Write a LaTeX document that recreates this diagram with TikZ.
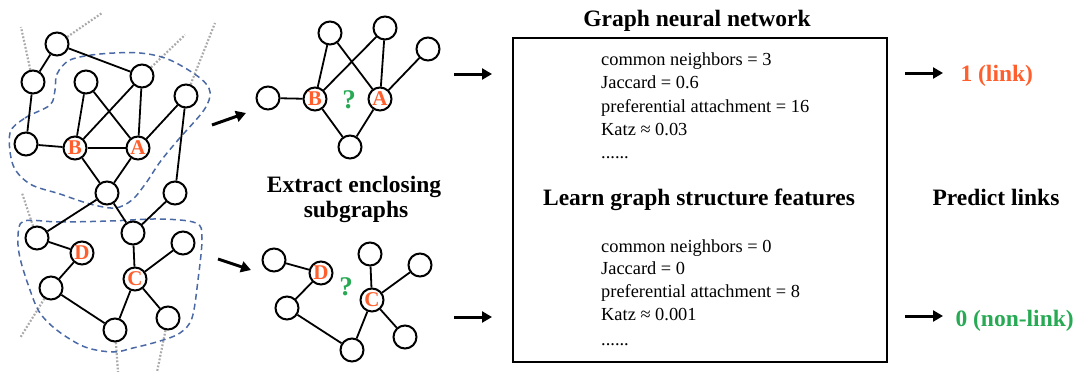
\documentclass[tikz,border=0pt]{standalone}
\usepackage{fontspec}
\setmainfont{Liberation Serif}
\usetikzlibrary{arrows.meta,backgrounds}
\definecolor{hot}{RGB}{255,95,45}
\definecolor{okgreen}{RGB}{40,170,85}
\definecolor{hull}{RGB}{75,105,165}
\definecolor{ghost}{RGB}{170,170,170}

\begin{document}
\begin{tikzpicture}[x=1pt,y=-1pt,
  vx/.style={circle,draw,line width=2pt,fill=white,minimum size=23pt,inner sep=0pt,
             font=\fontsize{21}{21}\selectfont\bfseries,text=hot},
  edge/.style={line width=1.8pt},
  hullline/.style={hull,line width=1.5pt,dash pattern=on 6pt off 4pt},
  outer/.style={ghost,line width=2.2pt,dash pattern=on 1.8pt off 1.8pt},
  flow/.style={line width=3pt,-{Triangle[length=10pt,width=11pt]}},
  heading/.style={font=\fontsize{23.5}{25}\selectfont\bfseries,anchor=base},
  feat/.style={font=\fontsize{18.4}{23}\selectfont,anchor=base west,inner sep=0pt},
  qmark/.style={font=\fontsize{27}{27}\selectfont\bfseries,text=okgreen},
]
\useasboundingbox (0,0) rectangle (1080,372);

% ---------- full network ----------
\node[vx] (L1) at (57,44) {};
\node[vx] (L2) at (33,82) {};
\node[vx] (L3) at (86,82) {};
\node[vx] (L4) at (142,76) {};
\node[vx] (L5) at (186,96) {};
\node[vx] (L6) at (26,144) {};
\node[vx] (B) at (75,148) {B};
\node[vx] (A) at (138,148) {A};
\node[vx] (L7) at (107,193) {};
\node[vx] (L8) at (175,193) {};
\node[vx] (L9) at (133,233) {};
\node[vx] (L10) at (37,238) {};
\node[vx] (D) at (82,253) {D};
\node[vx] (L11) at (183,243) {};
\node[vx] (C) at (135,279) {C};
\node[vx] (L12) at (51,288) {};
\node[vx] (L13) at (168,318) {};
\node[vx] (L14) at (115,330) {};

\foreach \u/\v in {L1/L2,L1/L4,L2/L6,L6/B,B/A,B/L3,B/L4,L3/A,L4/A,A/L5,L5/L8,
                   B/L7,A/L7,L7/L10,L7/L9,L8/L9,L9/C,C/L11,C/L13,C/L14,
                   L10/D,D/L12,L12/L14}
  \draw[edge] (\u) -- (\v);

% links leaving the visible part of the network
\coordinate (o1) at (102,13);
\coordinate (o2) at (21,27);
\coordinate (o3) at (185,35);
\coordinate (o4) at (215,23);
\coordinate (o5) at (22,193);
\coordinate (o6) at (20,338);
\coordinate (o7) at (118,372);
\coordinate (o8) at (157,372);

\begin{scope}[on background layer]
  \draw[outer] (L1) -- (o1);
  \draw[outer] (L2) -- (o2);
  \draw[outer] (L4) -- (o3);
  \draw[outer] (L5) -- (o4);
  \draw[outer] (L10) -- (o5);
  \draw[outer] (L12) -- (o6);
  \draw[outer] (L14) -- (o7);
  \draw[outer] (L13) -- (o8);
  % enclosing-subgraph outlines
  \draw[hullline] plot[smooth cycle,tension=0.55] coordinates {
    (10,133) (25,118) (50,105) (55,90) (57,74) (70,60) (100,54) (140,53)
    (170,60) (200,78) (210,92) (204,110) (178,140) (160,162) (146,183)
    (132,200) (115,208) (90,204) (60,194) (30,184) (13,165)};
  \draw[hullline] plot[smooth cycle,tension=0.55] coordinates {
    (24,221) (60,222) (110,221) (160,219) (196,223) (202,238) (198,280)
    (192,318) (180,333) (160,341) (133,348) (113,352) (85,347) (58,331)
    (40,313) (30,290) (20,258) (18,236)};
\end{scope}

% ---------- extracted subgraph around A and B ----------
\node[vx] (T1) at (268,98) {};
\node[vx] (TB) at (315,99) {B};
\node[vx] (T2) at (330,33) {};
\node[vx] (T3) at (385,28) {};
\node[vx] (TA) at (380,99) {A};
\node[vx] (T4) at (428,49) {};
\node[vx] (T5) at (350,147) {};
\node[qmark] (q1) at (349,100) {?};
\foreach \u/\v in {T1/TB,TB/T2,TB/T3,T2/TA,T3/TA,TA/T4,TB/T5,TA/T5}
  \draw[edge] (\u) -- (\v);

% ---------- extracted subgraph around C and D ----------
\node[vx] (M1) at (274,260) {};
\node[vx] (MD) at (321,273) {D};
\node[vx] (M2) at (370,254) {};
\node[vx] (M3) at (420,265) {};
\node[vx] (MC) at (372,300) {C};
\node[vx] (M4) at (287,308) {};
\node[vx] (M5) at (405,337) {};
\node[vx] (M6) at (352,350) {};
\node[qmark] (q2) at (346,287) {?};
\foreach \u/\v in {M1/MD,MD/M4,M4/M6,M6/MC,MC/M2,MC/M3,MC/M5}
  \draw[edge] (\u) -- (\v);

\node[heading] (ext1) at (354,192) {Extract enclosing};
\node[heading] (ext2) at (356,217) {subgraphs};

% ---------- arrows between stages ----------
\coordinate (a1s) at (212,125); \coordinate (a1e) at (246,113);
\coordinate (a2s) at (218,259); \coordinate (a2e) at (251,270);
\coordinate (a3s) at (454,74);  \coordinate (a3e) at (492,74);
\coordinate (a4s) at (454,317); \coordinate (a4e) at (492,317);
\coordinate (a5s) at (905,73);  \coordinate (a5e) at (943,73);
\coordinate (a6s) at (905,316); \coordinate (a6e) at (943,316);
\foreach \s/\e in {a1s/a1e,a2s/a2e,a3s/a3e,a4s/a4e,a5s/a5e,a6s/a6e}
  \draw[flow] (\s) -- (\e);

% ---------- graph neural network ----------
\node[draw,line width=2.4pt,minimum width=374pt,minimum height=324pt,inner sep=0pt,
      anchor=north west] (gnn) at (512,37) {};
\node[heading] (gnnt) at (697,27) {Graph neural network};
\node[heading] (learn) at (699,205) {Learn graph structure features};

\node[feat] (f1) at (601,65)  {common neighbors = 3};
\node[feat] (f2) at (601,88)  {Jaccard = 0.6};
\node[feat] (f3) at (601,112) {preferential attachment = 16};
\node[feat] (f4) at (601,135) {Katz ≈ 0.03};
\node[feat] (f5) at (601,158) {......};

\node[feat] (g1) at (601,252) {common neighbors = 0};
\node[feat] (g2) at (601,274) {Jaccard = 0};
\node[feat] (g3) at (601,297) {preferential attachment = 8};
\node[feat] (g4) at (601,320) {Katz ≈ 0.001};
\node[feat] (g5) at (601,345) {......};

% ---------- predictions ----------
\node[heading,anchor=base west,text=hot] (y1) at (957,81) {1 (link)};
\node[heading] (pl) at (996,205) {Predict links};
\node[heading,anchor=base west,text=okgreen] (y0) at (952,326) {0 (non-link)};
\end{tikzpicture}
\end{document}
